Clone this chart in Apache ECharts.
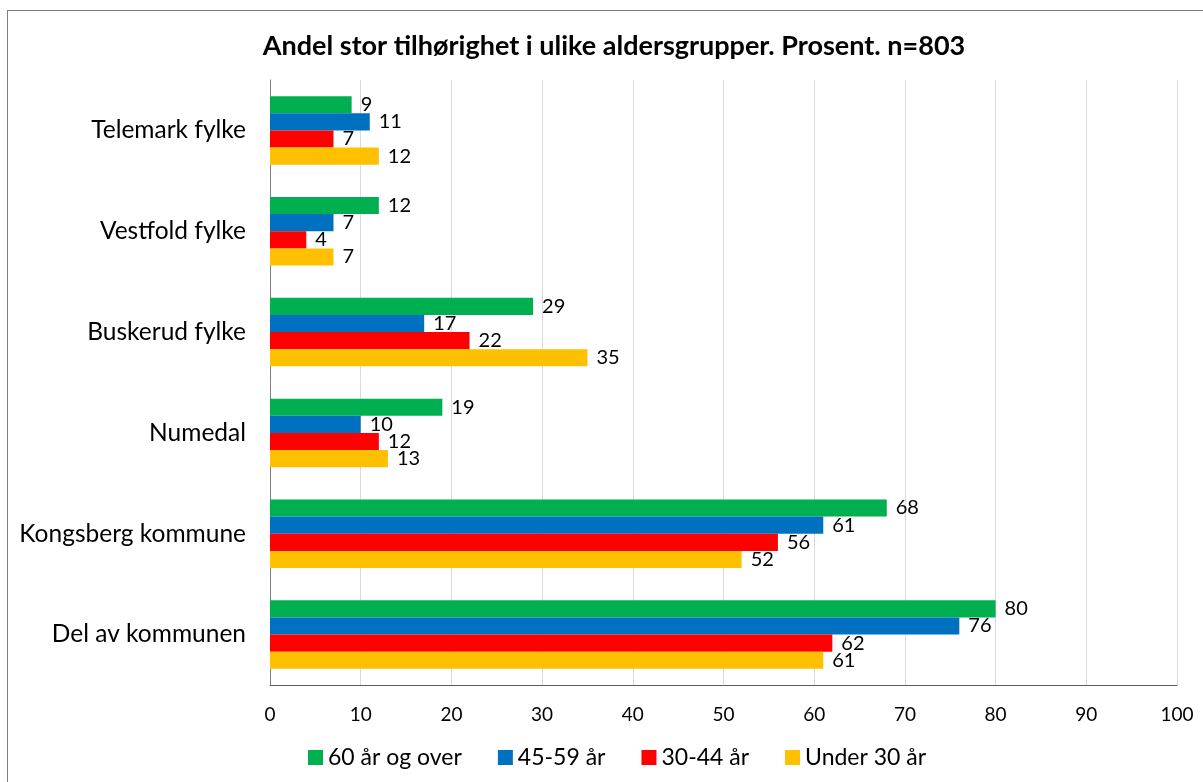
<!DOCTYPE html>
<html>
<head>
<meta charset="utf-8">
<script src="https://cdn.jsdelivr.net/npm/echarts@6/dist/echarts.min.js"></script>
<style>
  body { margin: 0; background: #fff; }
  #frame { position: absolute; left: 7px; top: 10px; width: 1210px; height: 790px; border: 1px solid #7f7f7f; }
  #main { position: absolute; left: 0; top: 0; width: 1203px; height: 782px; }
</style>
</head>
<body>
<div id="frame"></div>
<div id="main"></div>
<script>
// kategorier, ovenfra og ned
var steder = ['Telemark fylke', 'Vestfold fylke', 'Buskerud fylke', 'Numedal', 'Kongsberg kommune', 'Del av kommunen'];
var grupper = ['60 år og over', '45-59 år', '30-44 år', 'Under 30 år'];
var farger = ['#00B050', '#0070C0', '#FF0000', '#FFC000'];
var over60 = [9, 12, 29, 19, 68, 80];
var fra45til59 = [11, 7, 17, 10, 61, 76];
var fra30til44 = [7, 4, 22, 12, 56, 62];
var under30 = [12, 7, 35, 13, 52, 61];
var verdier = [over60, fra45til59, fra30til44, under30];

var font = 'Lato, "Open Sans", sans-serif';
var myChart = echarts.init(document.getElementById('main'));

var series = grupper.map(function (navn, i) {
  return {
    name: navn,
    type: 'bar',
    data: verdier[i],
    barGap: '0%',
    barCategoryGap: '32%',
    itemStyle: { color: farger[i] },
    label: {
      show: true,
      position: 'right',
      distance: 9,
      color: '#000',
      fontSize: 20,
      fontFamily: font
    }
  };
});

var option = {
  animation: false,
  title: {
    text: 'Andel stor tilhørighet i ulike aldersgrupper. Prosent. n=803',
    left: 609,
    textAlign: 'center',
    top: 28,
    textStyle: { fontSize: 27, fontWeight: 'bold', color: '#000', fontFamily: font }
  },
  legend: {
    data: grupper,
    bottom: 8,
    left: 303,
    itemWidth: 15,
    itemHeight: 15,
    itemGap: 36,
    icon: 'rect',
    textStyle: { fontSize: 23, color: '#000', fontFamily: font }
  },
  grid: { left: 270, right: 26, top: 80, bottom: 97 },
  xAxis: {
    type: 'value',
    min: 0,
    max: 100,
    interval: 10,
    axisLine: { show: true, lineStyle: { color: '#595959' } },
    axisTick: { show: false },
    axisLabel: { color: '#000', fontSize: 19, fontFamily: font, margin: 20 },
    splitLine: { show: true, lineStyle: { color: '#d9d9d9' } }
  },
  yAxis: {
    type: 'category',
    data: steder,
    inverse: true,
    axisLine: { show: true, lineStyle: { color: '#7f7f7f' } },
    axisTick: { show: false },
    axisLabel: { color: '#000', fontSize: 24.5, fontFamily: font, margin: 24 }
  },
  series: series
};
myChart.setOption(option);
</script>
</body>
</html>
